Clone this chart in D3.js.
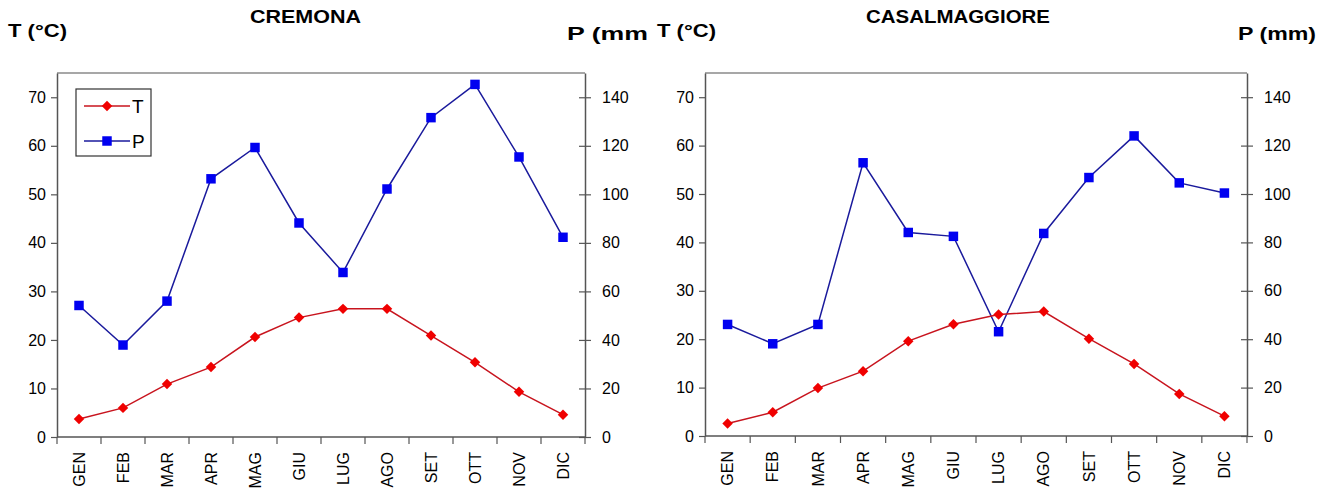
<!DOCTYPE html>
<html>
<head>
<meta charset="utf-8">
<script src="https://cdn.jsdelivr.net/npm/d3@7"></script>
<style>
  body { margin: 0; background: #fff; }
  svg { font-family: "Liberation Sans", Arial, sans-serif; }
</style>
</head>
<body>
<svg id="chart" width="1326" height="488"></svg>
<script>
let months = ["GEN","FEB","MAR","APR","MAG","GIU","LUG","AGO","SET","OTT","NOV","DIC"];

let cremonaT = [3.7, 6.0, 10.9, 14.4, 20.6, 24.6, 26.4, 26.4, 20.9, 15.4, 9.3, 4.6];
let cremonaP = [54.2, 37.9, 56, 106.4, 119.3, 88.2, 67.8, 102.2, 131.6, 145.3, 115.4, 82.3];

let casalT = [2.6, 4.9, 9.9, 13.4, 19.6, 23.1, 25.1, 25.7, 20.1, 14.9, 8.7, 4.1];
let casalP = [46.1, 38.1, 46.1, 112.9, 84.1, 82.5, 43.1, 83.7, 106.8, 124, 104.6, 100.4];

let tTicks = [0, 10, 20, 30, 40, 50, 60, 70];
let pTicks = [0, 20, 40, 60, 80, 100, 120, 140];

let svg = d3.select("#chart");

drawPanel({
  title: "CREMONA", titleX: 250, titleW: 111,
  tLabelX: 8, pLabel: "P (mm", pLabelX: 567, pLabelW: 81,
  left: 57, right: 585, top: 73, bottom: 437,
  T: cremonaT, P: cremonaP, legend: true
});

drawPanel({
  title: "CASALMAGGIORE", titleX: 866, titleW: 184,
  tLabelX: 657, pLabel: "P (mm)", pLabelX: 1238, pLabelW: 78,
  left: 705, right: 1247, top: 73, bottom: 436,
  T: casalT, P: casalP, legend: false
});

function drawPanel(o) {
  let g = svg.append("g");

  let x = d3.scaleBand().domain(months).range([o.left, o.right]);
  let yT = d3.scaleLinear().domain([0, 75]).range([o.bottom, o.top]);
  let yP = d3.scaleLinear().domain([0, 150]).range([o.bottom, o.top]);

  // titles (the original lettering is a bit stretched sideways)
  g.append("text").attr("x", o.titleX).attr("y", 23)
    .attr("font-weight", "bold").attr("font-size", 18)
    .attr("textLength", o.titleW).attr("lengthAdjust", "spacingAndGlyphs")
    .text(o.title);
  g.append("text").attr("x", o.tLabelX).attr("y", 37)
    .attr("font-weight", "bold").attr("font-size", 18)
    .attr("textLength", 59).attr("lengthAdjust", "spacingAndGlyphs")
    .text("T (°C)");
  g.append("text").attr("x", o.pLabelX).attr("y", 40)
    .attr("font-weight", "bold").attr("font-size", 18)
    .attr("textLength", o.pLabelW).attr("lengthAdjust", "spacingAndGlyphs")
    .text(o.pLabel);

  // top frame line
  g.append("line")
    .attr("x1", o.left).attr("x2", o.right)
    .attr("y1", o.top).attr("y2", o.top)
    .attr("stroke", "#8a8a8a").attr("stroke-width", 1.5);

  // left axis
  let axL = g.append("g").attr("transform", "translate(" + o.left + ",0)")
    .call(d3.axisLeft(yT).tickValues(tTicks).tickSize(6).tickPadding(5).tickSizeOuter(0));
  // right axis (ticks cross the line)
  let axR = g.append("g").attr("transform", "translate(" + o.right + ",0)")
    .call(d3.axisRight(yP).tickValues(pTicks).tickSize(6).tickPadding(11).tickSizeOuter(0));
  axR.selectAll(".tick line").attr("x1", -6);

  // bottom axis with ticks on category borders
  let axB = g.append("g").attr("transform", "translate(0," + o.bottom + ")")
    .call(d3.axisBottom(x).tickSize(0).tickPadding(0));
  axB.select(".domain").remove();
  g.append("line")
    .attr("x1", o.left).attr("x2", o.right)
    .attr("y1", o.bottom).attr("y2", o.bottom)
    .attr("stroke", "#555").attr("stroke-width", 1.5);
  g.selectAll(".bt").data(months.concat(["_end"])).enter()
    .append("line")
    .attr("x1", (d, i) => o.left + i * x.bandwidth())
    .attr("x2", (d, i) => o.left + i * x.bandwidth())
    .attr("y1", o.bottom).attr("y2", o.bottom + 7)
    .attr("stroke", "#555").attr("stroke-width", 1.2);

  axB.selectAll(".tick text")
    .attr("transform", "rotate(-90)")
    .attr("text-anchor", "end")
    .attr("x", -15).attr("y", 0).attr("dy", "0.35em")
    .attr("font-size", 16).attr("fill", "#000");

  [axL, axR].forEach(a => {
    a.select(".domain").attr("stroke", "#555").attr("stroke-width", 1.5);
    a.selectAll(".tick line").attr("stroke", "#555").attr("stroke-width", 1.2);
    a.selectAll(".tick text").attr("font-size", 16).attr("fill", "#000");
  });

  // lines
  let cx = i => x(months[i]) + x.bandwidth() / 2;
  let lineT = d3.line().x((d, i) => cx(i)).y(d => yT(d));
  let lineP = d3.line().x((d, i) => cx(i)).y(d => yP(d));

  g.append("path").datum(o.P).attr("d", lineP)
    .attr("fill", "none").attr("stroke", "#1a1a9c").attr("stroke-width", 1.5);
  g.append("path").datum(o.T).attr("d", lineT)
    .attr("fill", "none").attr("stroke", "#c8141e").attr("stroke-width", 1.5);

  let sq = d3.symbol().type(d3.symbolSquare).size(90);
  let dm = d3.symbol().type(d3.symbolSquare).size(55);

  g.selectAll(".mp").data(o.P).enter().append("path")
    .attr("d", sq)
    .attr("transform", (d, i) => "translate(" + cx(i) + "," + yP(d) + ")")
    .attr("fill", "#0000f0");
  g.selectAll(".mt").data(o.T).enter().append("path")
    .attr("d", dm)
    .attr("transform", (d, i) => "translate(" + cx(i) + "," + yT(d) + ") rotate(45)")
    .attr("fill", "#f00000");

  if (o.legend) {
    let lg = g.append("g");
    lg.append("rect").attr("x", 76).attr("y", 89).attr("width", 75).attr("height", 67)
      .attr("fill", "#fff").attr("stroke", "#333").attr("stroke-width", 1.2);
    let items = [["T", "#c8141e", "#f00000", dm, 106, 45], ["P", "#1a1a9c", "#0000f0", sq, 141, 0]];
    items.forEach(it => {
      lg.append("line").attr("x1", 84).attr("x2", 130).attr("y1", it[4]).attr("y2", it[4])
        .attr("stroke", it[1]).attr("stroke-width", 1.5);
      lg.append("path").attr("d", it[3])
        .attr("transform", "translate(107," + it[4] + ") rotate(" + it[5] + ")")
        .attr("fill", it[2]);
      lg.append("text").attr("x", 132).attr("y", it[4]).attr("dy", "0.36em")
        .attr("font-size", 19).text(it[0]);
    });
  }
}
</script>
</body>
</html>
